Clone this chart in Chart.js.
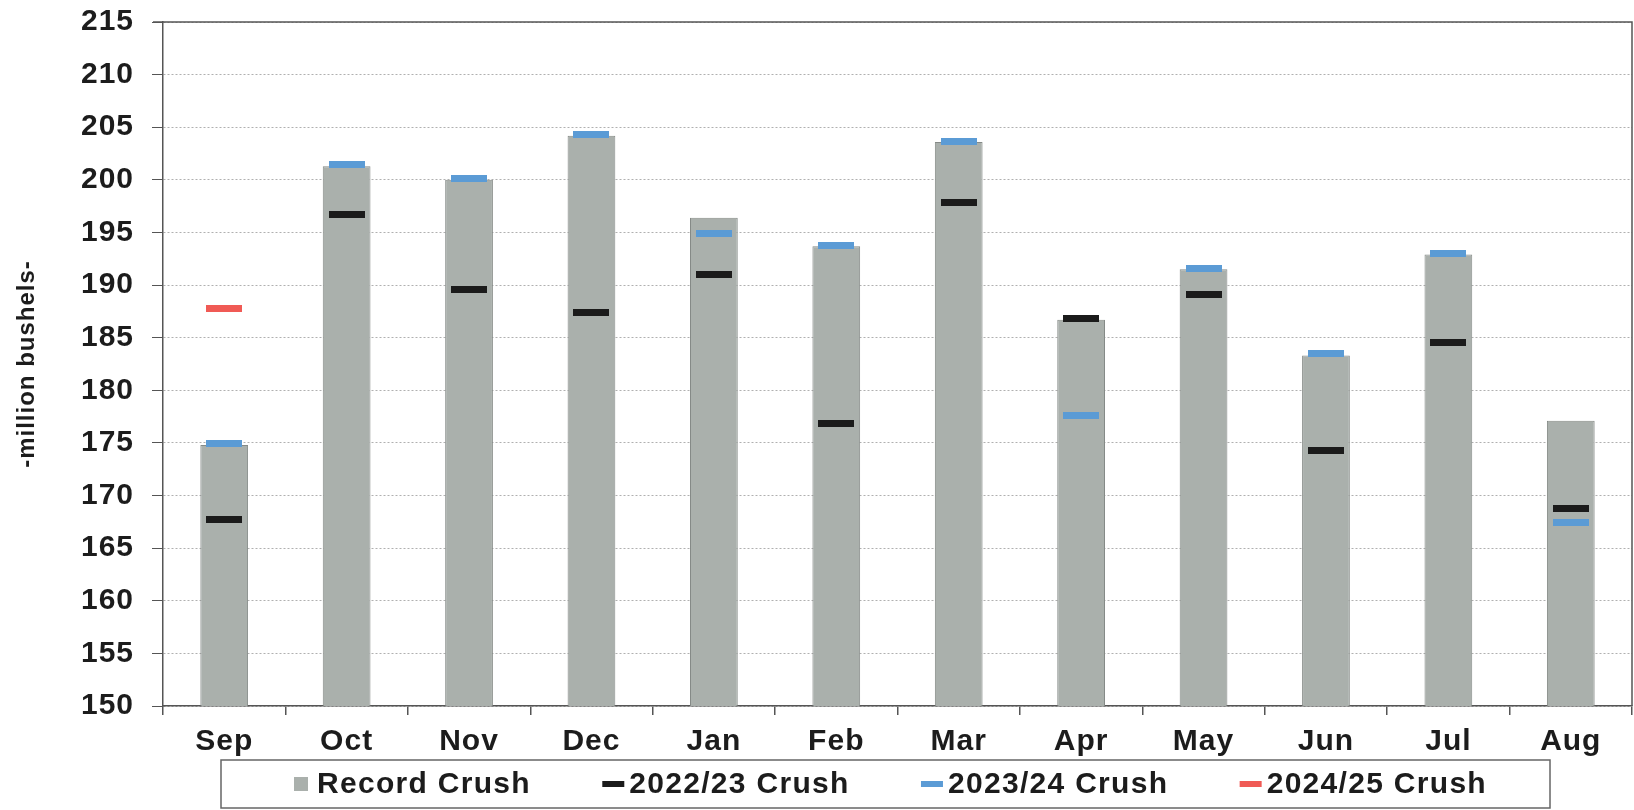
<!DOCTYPE html>
<html>
<head>
<meta charset="utf-8">
<script src="https://cdn.jsdelivr.net/npm/chart.js@4.4.1/dist/chart.umd.min.js"></script>
<style>
html,body{margin:0;padding:0;background:#fff}
</style>
</head>
<body>
<canvas id="crushChart" width="1634" height="810"></canvas>
<script>
// months of the marketing year
var months = ["Sep","Oct","Nov","Dec","Jan","Feb","Mar","Apr","May","Jun","Jul","Aug"];
// million bushels
var recordCrush = [174.8, 201.3, 200.0, 204.2, 196.4, 193.7, 203.6, 186.7, 191.5, 183.3, 192.9, 177.1];
var crush2223  = [167.7, 196.7, 189.6, 187.4, 191.0, 176.8, 197.8, 186.8, 189.1, 174.3, 184.5, 168.8];
var crush2324  = [174.9, 201.5, 200.1, 204.3, 194.9, 193.8, 203.6, 177.6, 191.6, 183.5, 193.0, 167.4];
var crush2425  = [187.8, null, null, null, null, null, null, null, null, null, null, null];
var yTicks = [150,155,160,165,170,175,180,185,190,195,200,205,210,215];

var FONT = '"Liberation Sans", Arial, sans-serif';
var TXT = '#1c1c1c';

// little dash used as point style (no big radius -> no extra layout overflow)
function makeDash(color) {
  var c = document.createElement('canvas');
  c.width = 36; c.height = 7;
  var g = c.getContext('2d');
  g.fillStyle = color;
  g.fillRect(0, 0, 36, 7);
  return c;
}

function markerSet(label, data, color) {
  return {
    type: 'line', label: label, data: data, showLine: false,
    pointStyle: makeDash(color), pointRadius: 1, pointHoverRadius: 1, pointBorderWidth: 0,
    borderColor: color, backgroundColor: color, borderWidth: 0,
    order: 1
  };
}

// wider lettering like the scanned original
var spacingPlugin = {
  id: 'spacingPlugin',
  beforeDraw: function (chart) { chart.ctx.letterSpacing = '1px'; },
  afterDraw: function (chart) { chart.ctx.letterSpacing = '0px'; }
};

// frame + legend box drawn by hand
var framePlugin = {
  id: 'framePlugin',
  afterDraw: function (chart) {
    var ctx = chart.ctx, a = chart.chartArea;
    ctx.save();
    ctx.letterSpacing = '0px';
    ctx.strokeStyle = '#555';
    ctx.lineWidth = 1.5;
    ctx.beginPath();
    ctx.moveTo(a.left - 10, a.top);
    ctx.lineTo(a.right, a.top);
    ctx.lineTo(a.right, a.bottom);
    ctx.stroke();

    // legend
    var x0 = 221, y0 = 760, x1 = 1550, y1 = 808, cy = 784;
    var first = 292, last = 1487;
    ctx.lineWidth = 1.5;
    ctx.strokeStyle = '#666';
    ctx.strokeRect(x0, y0, x1 - x0, y1 - y0);
    ctx.font = 'bold 30px ' + FONT;
    ctx.letterSpacing = '1.3px';
    ctx.textBaseline = 'middle';
    var ds = chart.data.datasets;
    var mkW = 20, mGap = 5;
    var widths = ds.map(function (d) { return mkW + mGap + ctx.measureText(d.label).width; });
    var sum = widths.reduce(function (s, w) { return s + w; }, 0);
    var gap = (last - first - sum) / (ds.length - 1);
    var x = first;
    ds.forEach(function (d, i) {
      if (d.type === 'line') {
        ctx.fillStyle = d.borderColor;
        ctx.fillRect(x - 2, cy - 3, mkW + 2, 6);
      } else {
        ctx.fillStyle = d.backgroundColor;
        ctx.fillRect(x + 2, cy - 7, 14, 14);
      }
      ctx.fillStyle = TXT;
      ctx.textAlign = 'left';
      ctx.fillText(d.label, x + mkW + mGap, cy + 1);
      x += widths[i] + gap;
    });
    ctx.restore();
  }
};

new Chart(document.getElementById('crushChart'), {
  type: 'bar',
  data: {
    labels: months,
    datasets: [
      {
        label: 'Record Crush', data: recordCrush,
        backgroundColor: '#aab0ac', borderColor: '#858a87', borderWidth: 1,
        categoryPercentage: 1, barPercentage: 0.39, order: 10
      },
      markerSet('2022/23 Crush', crush2223, '#1b1b1b'),
      markerSet('2023/24 Crush', crush2324, '#5b9bd5'),
      markerSet('2024/25 Crush', crush2425, '#f05a55')
    ]
  },
  options: {
    responsive: false,
    animation: false,
    devicePixelRatio: 1,
    layout: { padding: { top: 22, right: 2, bottom: 50, left: 0 } },
    plugins: { legend: { display: false }, tooltip: { enabled: false } },
    scales: {
      x: {
        grid: { display: true, drawOnChartArea: false, offset: true, tickLength: 9, color: '#555', lineWidth: 1.5 },
        border: { color: '#555', width: 1.5 },
        ticks: { color: TXT, font: { family: FONT, size: 30, weight: 'bold' }, padding: 9 },
        afterFit: function (s) { s.height = 54; s.paddingLeft = 0; s.paddingRight = 0; }
      },
      y: {
        min: 150, max: 215,
        afterBuildTicks: function (s) { s.ticks = yTicks.map(function (v) { return { value: v }; }); },
        grid: { color: '#b0b0b0', lineWidth: 1, tickLength: 11, tickColor: '#555' },
        border: { color: '#555', width: 1.5, dash: [2, 2] },
        ticks: { color: TXT, font: { family: FONT, size: 30, weight: 'bold' }, padding: 18 },
        title: { display: true, text: '-million bushels-', color: TXT, font: { family: FONT, size: 24, weight: 'bold' }, padding: { top: 13, bottom: 0 } },
        afterFit: function (s) { s.width = 163; s.paddingTop = 0; s.paddingBottom = 0; }
      }
    }
  },
  plugins: [spacingPlugin, framePlugin]
});
</script>
</body>
</html>
